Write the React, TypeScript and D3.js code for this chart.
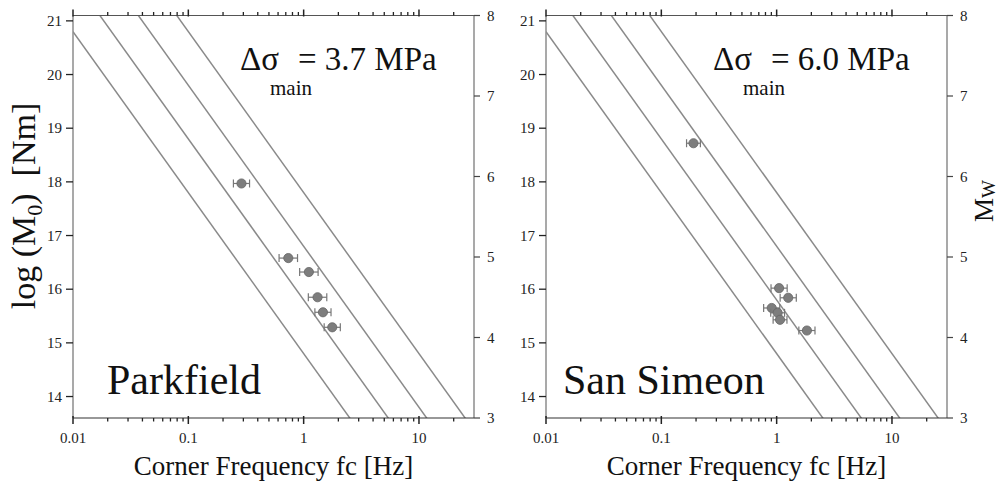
import React from "react";
import * as d3 from "d3";

const W = 1003;
const H = 487;
const FONT = "'Liberation Serif', 'Times New Roman', serif";

// axis domains and ticks
const fcDomain: [number, number] = [0.01, 30];
const m0Domain: [number, number] = [13.6, 21.1];
const mwDomain: [number, number] = [3, 8];
const m0Ticks = [14, 15, 16, 17, 18, 19, 20, 21];
const mwTicks = [3, 4, 5, 6, 7, 8];
const fcMajor = [0.01, 0.1, 1, 10];
const fcMajorLabels = ["0.01", "0.1", "1", "10"];

// constant stress-drop lines: log M0 at fc = 1 Hz (slope -3 in log-log)
const lineIntercepts = [14.8, 15.8, 16.8, 17.8];

// Parkfield events
const parkFc = [0.289, 0.736, 1.11, 1.32, 1.47, 1.77];
const parkM0 = [17.97, 16.58, 16.32, 15.85, 15.57, 15.29];
const parkErr = [0.07, 0.08, 0.08, 0.08, 0.07, 0.07]; // dex

// San Simeon events
const simFc = [0.19, 1.05, 1.26, 0.906, 1.02, 1.07, 1.83];
const simM0 = [18.72, 16.02, 15.84, 15.65, 15.56, 15.43, 15.23];
const simErr = [0.06, 0.07, 0.07, 0.07, 0.06, 0.06, 0.07];

interface PanelProps {
  id: string;
  left: number;
  right: number;
  name: string;
  nameX: number;
  stress: string;
  fc: number[];
  m0: number[];
  err: number[];
}

const TOP = 15.5;
const BOTTOM = 418;

function Panel({ id, left, right, name, nameX, stress, fc, m0, err }: PanelProps) {
  const x = d3.scaleLog().domain(fcDomain).range([left, right]);
  const y = d3.scaleLinear().domain(m0Domain).range([BOTTOM, TOP]);
  const yMw = d3.scaleLinear().domain(mwDomain).range([BOTTOM, TOP]);

  // minor log ticks 2..9 of each decade
  const minor: number[] = [];
  for (const d of fcMajor) {
    for (let k = 2; k <= 9; k++) {
      const v = d * k;
      if (v < fcDomain[1]) minor.push(v);
    }
  }

  return (
    <g>
      <defs>
        <clipPath id={`clip-${id}`}>
          <rect x={left} y={TOP} width={right - left} height={BOTTOM - TOP} />
        </clipPath>
      </defs>
      {/* stress drop lines */}
      <g clipPath={`url(#clip-${id})`}>
        {lineIntercepts.map((c, i) => {
          const pts: [number, number][] = fcDomain.map((f) => [x(f), y(c - 3 * Math.log10(f))]);
          const path = d3.line()(pts) || "";
          return <path key={i} d={path} fill="none" stroke="#8a8a8a" strokeWidth={1.5} />;
        })}
      </g>
      {/* frame */}
      <line x1={left} x2={left} y1={TOP} y2={BOTTOM} stroke="#8c8c8c" strokeWidth={1.5} />
      <line x1={right} x2={right} y1={TOP} y2={BOTTOM} stroke="#8c8c8c" strokeWidth={1.5} />
      <line x1={left} x2={right} y1={TOP} y2={TOP} stroke="#555" strokeWidth={1.2} />
      <line x1={left} x2={right} y1={BOTTOM} y2={BOTTOM} stroke="#333" strokeWidth={1.2} />

      {/* x ticks top & bottom */}
      {fcMajor.map((f, i) => (
        <g key={"M" + i}>
          <line x1={x(f)} x2={x(f)} y1={TOP - 6} y2={TOP + 1} stroke="#222" strokeWidth={1.5} />
          <line x1={x(f)} x2={x(f)} y1={BOTTOM - 2} y2={BOTTOM + 6} stroke="#222" strokeWidth={1.5} />
          <text x={x(f)} y={443} textAnchor="middle" fontSize={15} fill="#222" fontFamily={FONT}>
            {fcMajorLabels[i]}
          </text>
        </g>
      ))}
      {minor.map((f, i) => (
        <g key={"m" + i}>
          <line x1={x(f)} x2={x(f)} y1={TOP - 3.5} y2={TOP} stroke="#222" strokeWidth={1.3} />
          <line x1={x(f)} x2={x(f)} y1={BOTTOM} y2={BOTTOM + 3.5} stroke="#222" strokeWidth={1.3} />
        </g>
      ))}

      {/* left log M0 ticks */}
      {m0Ticks.map((t) => (
        <g key={"y" + t}>
          <line x1={left - 7} x2={left} y1={y(t)} y2={y(t)} stroke="#222" strokeWidth={1.3} />
          <text x={left - 11} y={y(t) + 5} textAnchor="end" fontSize={15} fill="#222" fontFamily={FONT}>
            {t}
          </text>
        </g>
      ))}
      {/* right Mw ticks */}
      {mwTicks.map((t) => (
        <g key={"w" + t}>
          <line x1={right} x2={right + 6} y1={yMw(t)} y2={yMw(t)} stroke="#444" strokeWidth={1.2} />
          <text x={right + 13} y={yMw(t) + 5} fontSize={15} fill="#222" fontFamily={FONT}>
            {t}
          </text>
        </g>
      ))}

      {/* data with horizontal error bars */}
      {fc.map((f, i) => {
        const x0 = x(f * Math.pow(10, -err[i]));
        const x1 = x(f * Math.pow(10, err[i]));
        const cy = y(m0[i]);
        return (
          <g key={"p" + i}>
            <line x1={x0} x2={x1} y1={cy} y2={cy} stroke="#777" strokeWidth={1.2} />
            <line x1={x0} x2={x0} y1={cy - 4} y2={cy + 4} stroke="#777" strokeWidth={1.2} />
            <line x1={x1} x2={x1} y1={cy - 4} y2={cy + 4} stroke="#777" strokeWidth={1.2} />
            <circle cx={x(f)} cy={cy} r={4.6} fill="#7d7d7d" stroke="#666" strokeWidth={0.8} />
          </g>
        );
      })}

      {/* annotations */}
      <text x={left + 167} y={70} fontSize={33} fill="#111" fontFamily={FONT}>
        Δσ
      </text>
      <text x={left + 225} y={70} fontSize={33} fill="#111" fontFamily={FONT} style={{ whiteSpace: "pre" }}>
        {`= ${stress} MPa`}
      </text>
      <text x={left + 197} y={95} fontSize={21} fill="#111" fontFamily={FONT}>
        main
      </text>
      <text x={nameX} y={394} fontSize={42} fill="#111" fontFamily={FONT}>
        {name}
      </text>
      <text x={(left + right) / 2} y={475} textAnchor="middle" fontSize={27} fill="#111" fontFamily={FONT}>
        Corner Frequency fc [Hz]
      </text>
    </g>
  );
}

export default function App() {
  return (
    <svg width={W} height={H} style={{ position: "absolute", left: 0, top: 0, background: "#fff" }}>
      <rect width={W} height={H} fill="#fff" />
      <Panel id="park" left={73} right={474} name="Parkfield" nameX={107} stress="3.7" fc={parkFc} m0={parkM0} err={parkErr} />
      <Panel id="sim" left={546} right={947} name="San Simeon" nameX={563} stress="6.0" fc={simFc} m0={simM0} err={simErr} />
      <text
        transform="translate(35,206) rotate(-90)"
        textAnchor="middle"
        fontSize={34}
        fill="#111"
        fontFamily={FONT}
        style={{ whiteSpace: "pre" }}
      >
        log (M<tspan fontSize={22} dy={7}>0</tspan>
        <tspan dy={-7}>)  [Nm]</tspan>
      </text>
      <text transform="translate(993,222) rotate(-90)" fontSize={27} fill="#111" fontFamily={FONT}>
        M<tspan fontSize={19} dy={2}>W</tspan>
      </text>
    </svg>
  );
}
